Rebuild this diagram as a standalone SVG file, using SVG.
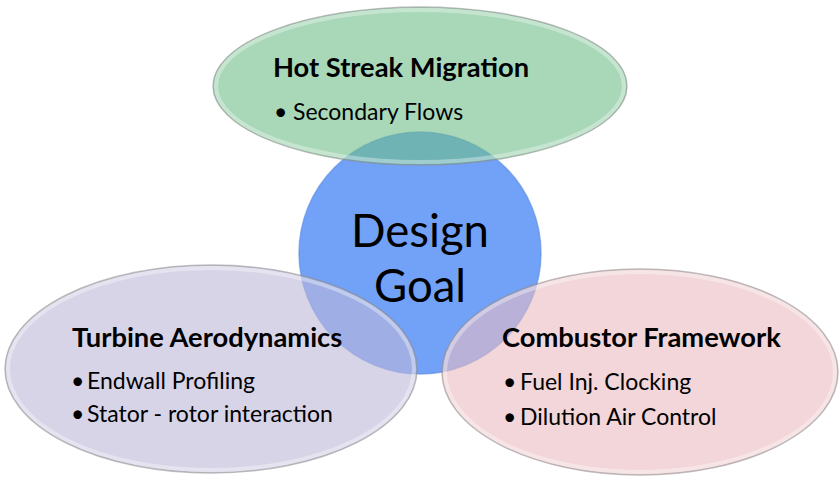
<svg xmlns="http://www.w3.org/2000/svg" width="840" height="477" viewBox="0 0 840 477">
  <defs>
    <style>
      .shape { stroke: #8a8a8a; stroke-opacity: 0.55; stroke-width: 1.5; }
      .rim { fill: none; stroke: #ffffff; stroke-opacity: 0.35; stroke-width: 4; }
      .head { font-family: Lato, "Open Sans", sans-serif; font-weight: bold; font-size: 27.3px; fill: #000; }
      .item { font-family: Lato, "Open Sans", sans-serif; font-size: 23px; fill: #000; }
      .goal { font-family: Lato, "Open Sans", sans-serif; font-size: 45.5px; fill: #000; text-anchor: middle; }
    </style>
  </defs>
  <rect width="840" height="477" fill="#ffffff"/>
  <g id="node-goal">
    <circle cx="420" cy="253" r="121" fill="#72a2f8" stroke="#5a88e0" stroke-opacity="0.6" stroke-width="1.5"/>
    <text class="goal" x="420" y="247">Design</text>
    <text class="goal" x="420" y="302">Goal</text>
  </g>
  <g id="node-hot-streak">
    <ellipse class="shape" cx="420" cy="86" rx="207" ry="79" fill="rgb(110,190,137)" fill-opacity="0.6"/>
    <ellipse class="rim" cx="420" cy="86" rx="204" ry="76"/>
    <text class="head" x="273" y="77">Hot Streak Migration</text>
    <text class="item" x="274" y="120">•</text>
    <text class="item" x="293" y="120">Secondary Flows</text>
  </g>
  <g id="node-turbine">
    <ellipse class="shape" cx="211" cy="369" rx="206" ry="104" fill="rgb(190,183,217)" fill-opacity="0.6"/>
    <ellipse class="rim" cx="211" cy="369" rx="203" ry="101"/>
    <text class="head" x="72" y="347">Turbine Aerodynamics</text>
    <text class="item" x="71" y="389">•</text>
    <text class="item" x="87" y="389">Endwall Profiling</text>
    <text class="item" x="71" y="422">•</text>
    <text class="item" x="87" y="422">Stator - rotor interaction</text>
  </g>
  <g id="node-combustor">
    <ellipse class="shape" cx="640" cy="372" rx="198" ry="103" fill="rgb(233,187,193)" fill-opacity="0.6"/>
    <ellipse class="rim" cx="640" cy="372" rx="195" ry="100"/>
    <text class="head" x="502" y="347">Combustor Framework</text>
    <text class="item" x="503" y="390">•</text>
    <text class="item" x="520" y="390">Fuel Inj. Clocking</text>
    <text class="item" x="503" y="425">•</text>
    <text class="item" x="520" y="425">Dilution Air Control</text>
  </g>
</svg>
